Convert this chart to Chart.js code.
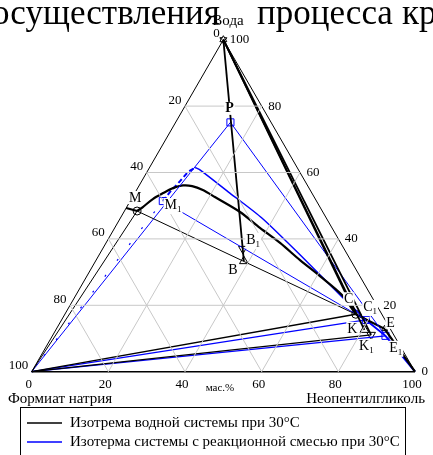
<!DOCTYPE html>
<html>
<head>
<meta charset="utf-8">
<script src="https://cdn.jsdelivr.net/npm/chart.js@4/dist/chart.umd.min.js"></script>
<style>
html, body { margin: 0; padding: 0; background: #fff; }
#wrap { position: relative; width: 433px; height: 455px; overflow: hidden; }
canvas { display: block; }
</style>
</head>
<body>
<div id="wrap"><canvas id="chart" width="433" height="455"></canvas></div>
<script>
// compositions in mass %: [neopentylglycol, water], sodium formate = the rest
var apexWater = [0, 100];
var apexFormate = [0, 0];
var apexNpg = [100, 0];

var gridSteps = [20, 40, 60, 80];
var tickValues = [0, 20, 40, 60, 80, 100];

var ptP = [14.3, 75.1];
var ptM = [3.3, 48.4];
var ptM1 = [8.5, 51.4];
var ptB = [38.7, 33.3];
var ptB1 = [36.6, 37.0];
var ptC = [75.9, 17.3];
var ptC1 = [79.4, 15.6];
var ptK = [80.5, 12.6];
var ptK1 = [83.0, 11.1];
var ptE = [85.6, 12.9];
var ptE1 = [86.9, 10.8];

// isotherm of the water system (black)
var waterEdge = [[0, 49.3], ptM];
var waterCurve = [ptM, [4.2, 49.6], [5.6, 52.0], [7.4, 53.8], [9.2, 55.3], [11.4, 56.1], [13.9, 55.9],
    [17.3, 54.7], [21.5, 52.6], [30.3, 48.1], [37.9, 43.3], [45.4, 38.8], [53.2, 33.6], [60.8, 28.8],
    [69.4, 23.1], ptC];
var waterTail = [ptC, ptE, apexNpg];

// isotherm of the system with reaction mixture (blue)
var mixDashed = [ptM1, [9.0, 54.1], [10.0, 57.4], [10.7, 60.2], [11.9, 61.5]];
var mixCurve = [[11.9, 61.5], [13.5, 60.8], [24.8, 53.8], [36.9, 46.3], [52.4, 35.2], [69.6, 22.6], ptC1];
var mixTail = [ptC1, ptE1, apexNpg];

var BLACK = '#000000';
var BLUE = '#0000ff';
var SERIF = '"Liberation Serif", "Times New Roman", serif';
var S3 = Math.sqrt(3) / 2;

function toXY(p) {
    return { x: p[0] + p[1] / 2, y: p[1] * S3 };
}

function line(points, color, width, extra) {
    var ds = {
        data: points.map(toXY),
        showLine: true,
        borderColor: color,
        borderWidth: width,
        pointRadius: 0,
        fill: false,
        tension: 0,
        clip: false
    };
    return Object.assign(ds, extra || {});
}

function marker(p, style, color, radius, rotation) {
    return {
        data: [toXY(p)],
        showLine: false,
        pointStyle: style,
        pointRadius: radius,
        pointRotation: rotation || 0,
        pointBackgroundColor: '#ffffff',
        pointBorderColor: color,
        pointBorderWidth: 1,
        clip: false
    };
}

var datasets = [];

// grid
gridSteps.forEach(function (t) {
    datasets.push(line([[0, t], [100 - t, t]], '#c8c8c8', 1));
    datasets.push(line([[t, 0], [t, 100 - t]], '#c8c8c8', 1));
    datasets.push(line([[100 - t, 0], [0, 100 - t]], '#c8c8c8', 1));
});

// triangle
datasets.push(line([apexFormate, apexNpg], BLACK, 1.6));
datasets.push(line([apexNpg, apexWater, apexFormate], BLACK, 1));

// black rays and tie lines
datasets.push(line([apexFormate, ptM], BLACK, 1));
datasets.push(line([ptM, ptC], BLACK, 1));
datasets.push(line([apexFormate, ptC], BLACK, 1.3));
datasets.push(line([apexFormate, ptK1], BLACK, 1.3));
datasets.push(line([apexWater, ptB], BLACK, 1.8));
datasets.push(line([apexWater, ptC], BLACK, 1.8));
datasets.push(line([apexWater, ptK], BLACK, 1.8));
datasets.push(line([apexWater, ptK1], BLACK, 1.8));

// blue rays and tie lines
datasets.push(line([apexFormate, ptP], BLUE, 1));
datasets.push(line([ptP, ptE1], BLUE, 1));
datasets.push(line([ptM1, ptC1], BLUE, 1));
datasets.push(line([apexFormate, ptM1], BLUE, 1.2, { borderDash: [2, 18] }));
datasets.push(line([apexFormate, ptC1], BLUE, 1.3));
datasets.push(line([apexFormate, ptE1], BLUE, 1.3));

// isotherms
datasets.push(line(waterEdge, BLACK, 2.2));
datasets.push(line(waterCurve, BLACK, 2.2, { tension: 0.3 }));
datasets.push(line(waterTail, BLACK, 2.2));
datasets.push(line(mixDashed, BLUE, 2, { borderDash: [5, 3] }));
datasets.push(line(mixCurve, BLUE, 1.5, { tension: 0.25 }));
datasets.push(line(mixTail, BLUE, 2));

// markers
datasets.push(marker(apexWater, 'triangle', BLACK, 4));
datasets.push(marker(apexWater, 'triangle', BLACK, 4, 180));
datasets.push(marker(ptB, 'triangle', BLACK, 5));
datasets.push(marker(ptB1, 'triangle', BLACK, 5, 180));
datasets.push(marker(ptK, 'triangle', BLACK, 5));
datasets.push(marker(ptK1, 'triangle', BLACK, 5, 180));
datasets.push(marker(ptE, 'triangle', BLACK, 3.5));
datasets.push(marker(ptM, 'circle', BLACK, 4));
datasets.push(marker(ptC, 'circle', BLACK, 4));
datasets.push(marker(ptP, 'rect', BLUE, 5));
datasets.push(marker(ptM1, 'rect', BLUE, 5));
datasets.push(marker(ptC1, 'rect', BLUE, 5));
datasets.push(marker(ptE1, 'rect', BLUE, 5));

// point labels: [text, subscript, point, dx, dy, bold]
var pointLabels = [
    ['P', '', ptP, -1, -13.5, true],
    ['M', '', ptM, -2, -13],
    ['M', '1', ptM1, 8, 4],
    ['B', '1', ptB1, 8, -9],
    ['B', '', ptB, -11, 9],
    ['C', '', ptC, -7, -15],
    ['C', '1', ptC1, 2, -13],
    ['K', '', ptK, -12, -1],
    ['K', '1', ptK1, -7, 11],
    ['E', '', ptE, 6, -6],
    ['E', '1', ptE1, 8, 12]
];

var overlay = {
    id: 'overlay',
    afterDraw: function (chart) {
        var ctx = chart.ctx;
        var xs = chart.scales.x, ys = chart.scales.y;
        function px(p) {
            var q = toXY(p);
            return [xs.getPixelForValue(q.x), ys.getPixelForValue(q.y)];
        }
        ctx.save();
        ctx.fillStyle = '#000';

        // heading line cut from the page above (justified text)
        ctx.font = '35px ' + SERIF;
        ctx.textBaseline = 'alphabetic';
        ctx.textAlign = 'left';
        ctx.fillText('осуществления', -8, 24);
        ctx.fillText('процесса', 257, 24);
        ctx.fillText('кр', 402, 24);

        // tick labels
        ctx.font = '13px ' + SERIF;
        ctx.textBaseline = 'middle';
        tickValues.forEach(function (v) {
            var l = px([0, 100 - v]);
            ctx.textAlign = 'right';
            ctx.fillText(String(v), l[0] - 3.5, l[1] - 6);
            var r = px([100 - v, v]);
            ctx.textAlign = 'left';
            ctx.fillText(String(v), r[0] + 6.5, r[1]);
            var b = px([v, 0]);
            ctx.textAlign = 'center';
            ctx.fillText(String(v), b[0] - 3, 385);
        });

        // axis names
        ctx.font = '15px ' + SERIF;
        ctx.textAlign = 'center';
        ctx.fillText('Вода', 228, 21);
        ctx.textAlign = 'left';
        ctx.fillText('Формиат натрия', 8, 399);
        ctx.textAlign = 'right';
        ctx.fillText('Неопентилгликоль', 425, 399);
        ctx.font = '11px ' + SERIF;
        ctx.textAlign = 'center';
        ctx.fillText('мас.%', 220, 388);

        // point labels
        pointLabels.forEach(function (lb) {
            var p = px(lb[2]);
            var cx = p[0] + lb[3], cy = p[1] + lb[4];
            ctx.font = (lb[5] ? 'bold ' : '') + '14px ' + SERIF;
            var w = ctx.measureText(lb[0]).width;
            ctx.font = '9px ' + SERIF;
            var sw = lb[1] ? ctx.measureText(lb[1]).width : 0;
            ctx.fillStyle = '#fff';
            ctx.fillRect(cx - w / 2 - 1, cy - 7, w + sw + 2, lb[1] ? 16 : 13);
            ctx.fillStyle = '#000';
            ctx.textAlign = 'center';
            ctx.textBaseline = 'middle';
            ctx.font = (lb[5] ? 'bold ' : '') + '14px ' + SERIF;
            ctx.fillText(lb[0], cx, cy);
            if (lb[1]) {
                ctx.font = '9px ' + SERIF;
                ctx.textAlign = 'left';
                ctx.fillText(lb[1], cx + w / 2, cy + 5);
            }
        });

        // legend
        ctx.strokeStyle = '#000';
        ctx.lineWidth = 1;
        ctx.strokeRect(20.5, 407.5, 385, 60);
        ctx.lineWidth = 1.5;
        ctx.beginPath(); ctx.moveTo(27, 423); ctx.lineTo(62, 423); ctx.stroke();
        ctx.strokeStyle = BLUE;
        ctx.beginPath(); ctx.moveTo(27, 442); ctx.lineTo(62, 442); ctx.stroke();
        ctx.font = '15px ' + SERIF;
        ctx.textAlign = 'left';
        ctx.textBaseline = 'middle';
        ctx.fillText('Изотрема водной системы при 30°C', 70, 423);
        ctx.fillText('Изотерма системы с реакционной смесью при 30°C', 70, 442);
        ctx.restore();
    }
};

new Chart(document.getElementById('chart').getContext('2d'), {
    type: 'scatter',
    data: { datasets: datasets },
    options: {
        responsive: false,
        animation: false,
        layout: { padding: { left: 31.7, right: 18, top: 39.7, bottom: 83.3 } },
        scales: {
            x: { type: 'linear', min: 0, max: 100, display: false },
            y: { type: 'linear', min: 0, max: 100 * S3, display: false }
        },
        plugins: {
            legend: { display: false },
            tooltip: { enabled: false }
        }
    },
    plugins: [overlay]
});
</script>
</body>
</html>
